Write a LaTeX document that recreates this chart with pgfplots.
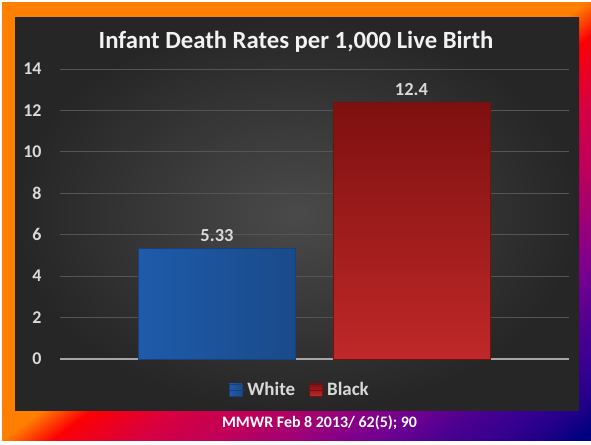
\documentclass[border=0pt]{standalone}
\usepackage{fontspec}
\setmainfont{Carlito}
\usepackage{pgfplots}
\pgfplotsset{compat=1.18}

\definecolor{g0}{HTML}{FF8000}
\definecolor{g1}{HTML}{FC0004}
\definecolor{g2}{HTML}{D80040}
\definecolor{g3}{HTML}{B80060}
\definecolor{g4}{HTML}{A00075}
\definecolor{g5}{HTML}{85008A}
\definecolor{g6}{HTML}{6A0092}
\definecolor{g7}{HTML}{4C0090}
\definecolor{g8}{HTML}{380090}
\definecolor{g9}{HTML}{200088}
\definecolor{g10}{HTML}{000080}
\definecolor{panelIn}{HTML}{4A4A4A}
\definecolor{panelOut}{HTML}{262626}
\definecolor{gridC}{HTML}{555555}
\definecolor{zeroC}{HTML}{A6A6A6}
\definecolor{tickC}{HTML}{D9D9D9}
\definecolor{titleC}{HTML}{F2F2F2}
\definecolor{bL}{HTML}{1E5BAA}
\definecolor{bM}{HTML}{2667BA}
\definecolor{bR}{HTML}{1A4A8A}
\definecolor{bB}{HTML}{18407A}
\definecolor{rT}{HTML}{7E1010}
\definecolor{rB}{HTML}{C02828}
\definecolor{rBd}{HTML}{6E1212}

\begin{document}
\begin{tikzpicture}
\useasboundingbox (0,0) rectangle (591bp,445bp);
\fill[white] (0,0) rectangle (591bp,445bp);
% frame gradient, along direction (0.6,0.8) from the top-left corner
\begin{scope}
\clip (2bp,4bp) rectangle (591bp,442bp);
\begin{scope}[transform canvas={shift={(0bp,445bp)}, rotate=-53.13}]
\fill[g0] (-10bp,-300bp) rectangle (353.5bp,500bp);
\shade[left color=g0, right color=g1] (353bp,-300bp) rectangle (383.5bp,500bp);
\shade[left color=g1, right color=g2] (383bp,-300bp) rectangle (434.5bp,500bp);
\shade[left color=g2, right color=g3] (434bp,-300bp) rectangle (494.5bp,500bp);
\shade[left color=g3, right color=g4] (494bp,-300bp) rectangle (524.5bp,500bp);
\shade[left color=g4, right color=g5] (524bp,-300bp) rectangle (554.5bp,500bp);
\shade[left color=g5, right color=g6] (554bp,-300bp) rectangle (584.5bp,500bp);
\shade[left color=g6, right color=g7] (584bp,-300bp) rectangle (614.5bp,500bp);
\shade[left color=g7, right color=g8] (614bp,-300bp) rectangle (644.5bp,500bp);
\shade[left color=g8, right color=g9] (644bp,-300bp) rectangle (674.5bp,500bp);
\shade[left color=g9, right color=g10] (674bp,-300bp) rectangle (699.5bp,500bp);
\fill[g10] (699bp,-300bp) rectangle (760bp,500bp);
\end{scope}
\end{scope}
\shade[inner color=panelIn, outer color=panelOut] (15bp,34bp) rectangle (579bp,427bp);
\node[font=\bfseries\fontsize{24.8}{29}\selectfont, text=titleC] at (296bp,403bp) {Infant Death Rates per 1,000 Live Birth};
\node[font=\bfseries\fontsize{16}{19}\selectfont, text=white] at (319.5bp,22bp) {MMWR Feb 8 2013/ 62(5); 90};
\begin{axis}[
  at={(60bp,86bp)}, anchor=south west,
  width=509bp, height=290bp, scale only axis,
  xmin=-0.807, xmax=1.81, ymin=0, ymax=14,
  xtick=\empty,
  ytick={2,4,...,14},
  extra y ticks={0},
  extra y tick style={grid style={line width=1.2pt, color=zeroC}},
  ymajorgrids,
  grid style={line width=0.8pt, color=gridC},
  axis line style={draw=none},
  major tick length=0pt,
  /pgf/number format/assume math mode=true,
  tick label style={font=\bfseries\fontsize{18}{21}\selectfont, text=tickC},
  yticklabel style={xshift=-15bp},
  clip=false,
  nodes near coords={\pgfmathprintnumber[fixed,precision=2]{\pgfplotspointmeta}},
  every node near coord/.append style={font=\bfseries\fontsize{18.5}{22}\selectfont, text=tickC, anchor=south, yshift=3bp},
  legend style={draw=none, fill=none, at={(0.4715,-0.107)}, anchor=center,
    legend columns=2, font=\bfseries\fontsize{19}{22}\selectfont, text=tickC,
    /tikz/every even column/.append style={column sep=12bp}},
  legend image code/.code={\draw[#1] (0bp,-6.2bp) rectangle (12.5bp,6.2bp); \path (0bp,0bp) -- (15.5bp,0bp);},
]
\addplot[ybar, bar shift=0pt, bar width=0.807, draw=bB, line width=0.6pt, left color=bL, middle color=bM, right color=bR] coordinates {(0,5.33)};
\addlegendentry{White}
\addplot[ybar, bar shift=0pt, bar width=0.807, draw=rBd, line width=0.6pt, top color=rT, bottom color=rB] coordinates {(1,12.4)};
\addlegendentry{Black}
\end{axis}
\end{tikzpicture}
\end{document}
